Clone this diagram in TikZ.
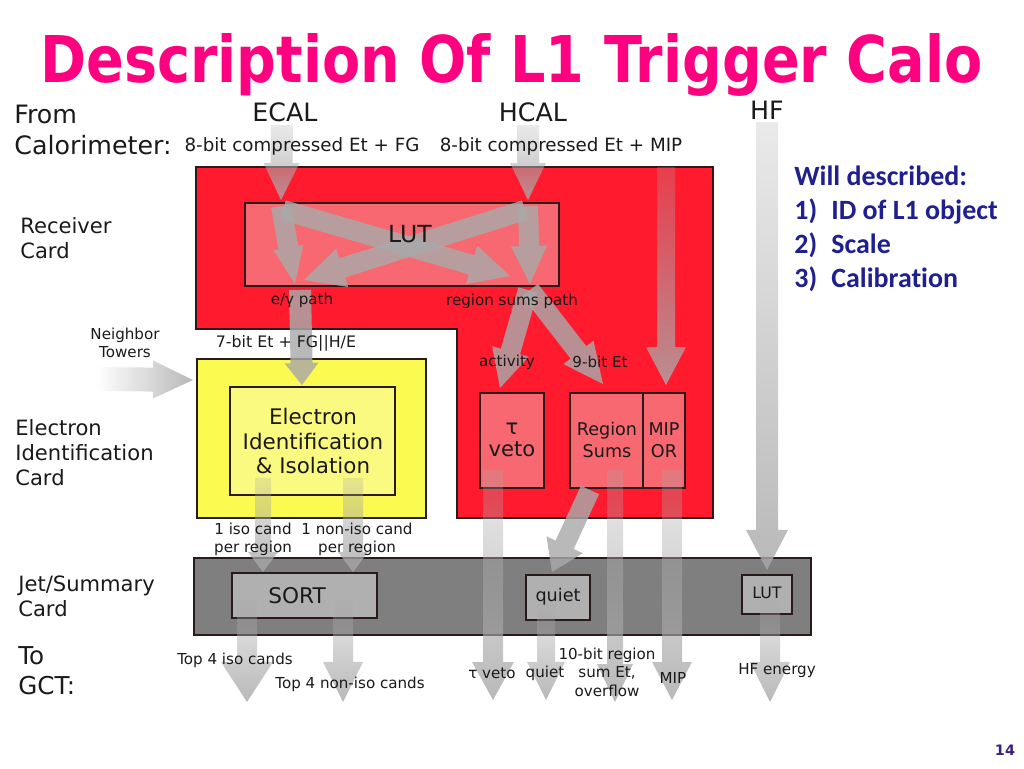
\documentclass[tikz,border=0pt]{standalone}
\usepackage{fontspec}
\usepackage{graphicx}
\setmainfont{DejaVu Sans}
\newfontfamily\calib[Ligatures=NoCommon]{Carlito}
\usetikzlibrary{calc,fadings}
\definecolor{titlepink}{HTML}{FF0080}
\definecolor{cardred}{HTML}{FF1A2E}
\definecolor{boxred}{HTML}{F86870}
\definecolor{cardyellow}{HTML}{FAFA50}
\definecolor{boxyellow}{HTML}{FAFA80}
\definecolor{cardgray}{HTML}{7F7F7F}
\definecolor{boxgray}{HTML}{B0B0B0}
\definecolor{edge}{HTML}{2A1A1A}
\definecolor{arrowgray}{HTML}{A9A9A9}
\definecolor{navy}{HTML}{1F1F8F}
\definecolor{pagenum}{HTML}{3B1F7A}
\definecolor{txt}{HTML}{1A1A1A}
\tikzfading[name=fadetail, top color=transparent!70, bottom color=transparent!0]
\tikzfading[name=fadeleftend, left color=transparent!100, right color=transparent!0]
\newcommand\barrow[6][]{%
  \pgfmathsetmacro\baSW{#4*0.02}%
  \pgfmathsetmacro\baHW{#5*0.02}%
  \pgfmathsetmacro\baHL{#6*0.02}%
  \coordinate (baS) at #2;
  \coordinate (baT) at #3;
  \coordinate (baB) at ($(baT)!\baHL cm!(baS)$);
  \path[arrowfill,#1] ($(baS)!\baSW cm!90:(baT)$) -- ($(baB)!\baSW cm!90:(baT)$)
    -- ($(baB)!\baHW cm!90:(baT)$) -- (baT) -- ($(baB)!\baHW cm!-90:(baT)$)
    -- ($(baB)!\baSW cm!-90:(baT)$) -- ($(baS)!\baSW cm!-90:(baT)$) -- cycle;
}
\tikzset{
  arrowfill/.style={fill=arrowgray, fill opacity=0.82, draw=none},
  faded/.style={path fading=fadetail},
  card/.style={draw=edge, line width=0.6pt},
  lbl/.style={inner sep=0pt, text=txt},
  small/.style={lbl, font=\fontsize{8.6}{10.4}\selectfont, align=center},
  side/.style={lbl, anchor=west, align=left, font=\fontsize{12}{14.2}\selectfont},
  big/.style={lbl, font=\fontsize{14.4}{17.6}\selectfont}
}
\begin{document}
\begin{tikzpicture}[x=0.02cm,y=-0.02cm]
\useasboundingbox (0,0) rectangle (1024,768);
% title
\node[anchor=base west, inner sep=0pt, text=titlepink] (title) at (40,82)
  {\resizebox{18.84cm}{0.98cm}{\bfseries Description Of L1 Trigger Calo}};
% cards
\draw[card, fill=cardred] (196,167) -- (713,167) -- (713,518) -- (457,518) -- (457,329) -- (196,329) -- cycle;
\draw[card, fill=boxred] (245,203) rectangle (559,286);
\draw[card, fill=cardyellow] (197,359) rectangle (426,518);
\draw[card, fill=boxyellow] (230,387) rectangle (395,495);
\draw[card, fill=boxred] (480,393) rectangle (544,488);
\draw[card, fill=boxred] (570,393) rectangle (643,488);
\draw[card, fill=boxred] (643,393) rectangle (685,488);
\draw[card, fill=cardgray] (194,558) rectangle (811,635);
\draw[card, fill=boxgray] (232,573) rectangle (377,618);
\draw[card, fill=boxgray] (526,575) rectangle (590,620);
\draw[card, fill=boxgray] (742,575) rectangle (792,614);
% arrows
\barrow[faded]{(282,125)}{(281,200)}{11}{18}{37}
\barrow[faded]{(528,125)}{(528,200)}{11}{18}{37}
\barrow[faded]{(767,122)}{(767,570)}{11}{21}{40}
\barrow{(281,206)}{(295,284)}{10}{15}{37}
\barrow{(525,210)}{(304,280)}{10}{20}{40}
\barrow{(283,210)}{(510,276)}{10}{20}{40}
\barrow{(528,206)}{(530,284)}{10}{18}{38}
\barrow{(528,290)}{(500,388)}{10}{19}{38}
\barrow{(530,290)}{(603,384)}{10}{19}{40}
\barrow[faded]{(666,167)}{(666,385)}{9}{20}{38}
\barrow{(300,290)}{(302,385)}{11}{17}{22}
\barrow[path fading=fadeleftend]{(97,379)}{(193,380)}{12}{19}{40}
\barrow[faded]{(263,478)}{(263,572)}{8}{15}{20}
\barrow[faded]{(353,478)}{(353,572)}{10}{15}{20}
\barrow[faded]{(247,600)}{(247,702)}{10}{26}{40}
\barrow[faded]{(343,600)}{(343,702)}{10}{20}{40}
\barrow[faded]{(493,470)}{(493,700)}{10}{21}{38}
\barrow{(590,490)}{(552,572)}{10}{20}{30}
\barrow[faded]{(546,605)}{(546,700)}{9}{19}{38}
\barrow[faded]{(615,470)}{(615,702)}{8}{18}{38}
\barrow[faded]{(672,470)}{(672,700)}{10}{20}{38}
\barrow[faded]{(770,600)}{(770,702)}{10}{20}{40}
% labels
\node[side, font=\fontsize{14.4}{17.6}\selectfont] (from) at (14,130) {From\\Calorimeter:};
\node[big] (ecal) at (285,112) {ECAL};
\node[big] (hcal) at (533,112) {HCAL};
\node[big] (hf) at (767,110) {HF};
\node[lbl, font=\fontsize{10.4}{12}\selectfont] (ecalbits) at (302,146) {8-bit compressed Et + FG};
\node[lbl, font=\fontsize{10.4}{12}\selectfont] (hcalbits) at (561,146) {8-bit compressed Et + MIP};
\node[side] (recv) at (20,238) {Receiver\\Card};
\node[lbl, font=\fontsize{13.4}{16}\selectfont] (lutlbl) at (410,234) {LUT};
\node[small] (egpath) at (302,300) {e/γ path};
\node[small] (rsp) at (512,301) {region sums path};
\node[small, font=\fontsize{9}{10.4}\selectfont] (sevenbit) at (286,343) {7-bit Et + FG||H/E};
\node[small] (neigh) at (125,343) {Neighbor\\Towers};
\node[side] (ecard) at (15,453) {Electron\\Identification\\Card};
\node[lbl, align=center, font=\fontsize{12.2}{14.2}\selectfont] (eid) at (313,441) {Electron\\Identification\\\& Isolation};
\node[small] (activity) at (507,362) {activity};
\node[small] (ninebit) at (600,362) {9-bit Et};
\node[lbl, align=center, font=\fontsize{12}{12.5}\selectfont] (tauveto) at (512,440) {τ\\veto};
\node[lbl, align=center, font=\fontsize{10}{12.5}\selectfont] (rsums) at (607,440) {Region\\Sums};
\node[lbl, align=center, font=\fontsize{10}{12.5}\selectfont] (mipor) at (664,440) {MIP\\OR};
\node[small] (isocand) at (253,539) {1 iso cand\\per region};
\node[small] (noniso) at (357,539) {1 non-iso cand\\per region};
\node[side] (jet) at (18,596) {Jet/Summary\\Card};
\node[lbl, font=\fontsize{12.3}{14}\selectfont] (sort) at (297,596) {SORT};
\node[lbl, font=\fontsize{10}{12}\selectfont] (quiet) at (558,597) {quiet};
\node[lbl, font=\fontsize{9}{11}\selectfont] (hflut) at (767,593) {LUT};
\node[side, font=\fontsize{14}{17}\selectfont] (togct) at (18,671) {To\\GCT:};
\node[small] (top4iso) at (235,660) {Top 4 iso cands};
\node[small] (top4non) at (350,684) {Top 4 non-iso cands};
\node[small] (tauout) at (492,673) {τ veto};
\node[small] (quietout) at (545,673) {quiet};
\node[small, font=\fontsize{8.6}{10.5}\selectfont] (tenbit) at (607,672) {10-bit region\\sum Et,\\overflow};
\node[small] (mipout) at (673,678) {MIP};
\node[small] (hfen) at (777,671) {HF energy};
\node[anchor=north west, inner sep=0pt, align=left, text=navy, font=\calib\bfseries\fontsize{15.9}{19.3}\selectfont] (will) at (794,166)
  {Will described:\\\makebox[0.74cm][l]{1)}ID of L1 object\\\makebox[0.74cm][l]{2)}Scale\\\makebox[0.74cm][l]{3)}Calibration};
\node[inner sep=0pt, text=pagenum, font=\bfseries\fontsize{8.2}{10}\selectfont] (pnum) at (1005,750) {14};
\end{tikzpicture}
\end{document}
